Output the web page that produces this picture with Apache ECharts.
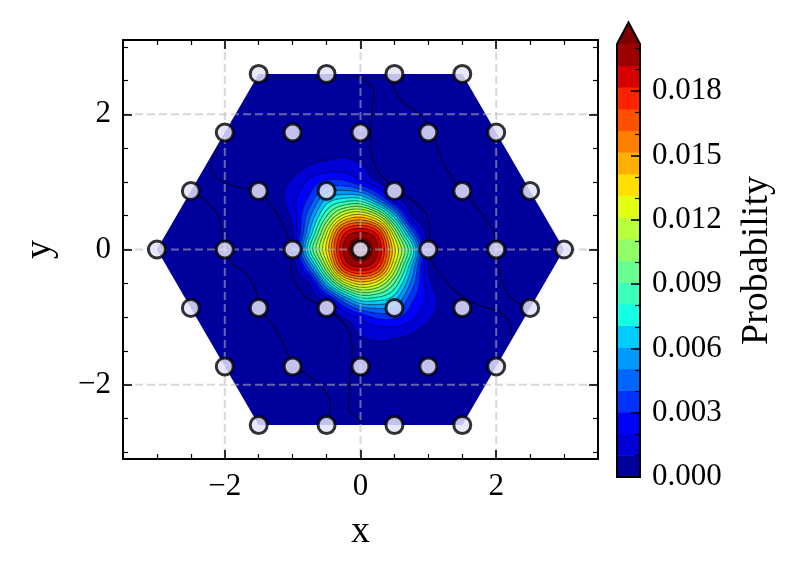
<!DOCTYPE html>
<html><head><meta charset="utf-8">
<script src="https://cdn.jsdelivr.net/npm/echarts@6/dist/echarts.min.js"></script>
<style>html,body{margin:0;padding:0;background:#fff}#c{width:796px;height:571px}</style>
</head><body><div id="c"></div>
<script>
// ---------------- data ----------------
const xTicks = [-2, 0, 2];
const yTicks = [-2, 0, 2];
const xMinorTicks = [-3, -2.5, -1.5, -1, -0.5, 0.5, 1, 1.5, 2.5, 3];
const yMinorTicks = [-3, -2.5, -1.5, -1, -0.5, 0.5, 1, 1.5, 2.5, 3];
const cbarTicks = [0, 0.003, 0.006, 0.009, 0.012, 0.015, 0.018];
const cbarMinorTicks = [0.001, 0.002, 0.004, 0.005, 0.007, 0.008, 0.010, 0.011, 0.013, 0.014, 0.016, 0.017, 0.019, 0.020];
const levels = [0, 0.00101, 0.00202, 0.00303, 0.00404, 0.00505, 0.00606, 0.00707, 0.00808, 0.00909, 0.0101,
  0.01111, 0.01212, 0.01313, 0.01414, 0.01515, 0.01616, 0.01717, 0.01818, 0.01919, 0.0202];

// hexagonal lattice sites
const latticeX = [-1.5, -0.5, 0.5, 1.5,
  -2, -1, 0, 1, 2,
  -2.5, -1.5, -0.5, 0.5, 1.5, 2.5,
  -3, -2, -1, 0, 1, 2, 3,
  -2.5, -1.5, -0.5, 0.5, 1.5, 2.5,
  -2, -1, 0, 1, 2,
  -1.5, -0.5, 0.5, 1.5];
const latticeY = [2.598, 2.598, 2.598, 2.598,
  1.732, 1.732, 1.732, 1.732, 1.732,
  0.866, 0.866, 0.866, 0.866, 0.866, 0.866,
  0, 0, 0, 0, 0, 0, 0,
  -0.866, -0.866, -0.866, -0.866, -0.866, -0.866,
  -1.732, -1.732, -1.732, -1.732, -1.732,
  -2.598, -2.598, -2.598, -2.598];

// probability field (units of 1e-5), rows top (y=1.75) to bottom (y=-1.75)
const PROB_UNIT = 1e-5;
const gridX = [-1.75, -1.5, -1.25, -1, -0.75, -0.5, -0.25, 0, 0.25, 0.5, 0.75, 1, 1.25, 1.5, 1.75];
const gridY = [1.75, 1.5, 1.25, 1, 0.75, 0.5, 0.25, 0, -0.25, -0.5, -0.75, -1, -1.25, -1.5, -1.75];
const probGrid = [
  [1, 4, 7, 13, 21, 27, 20, 4, 0, 0, 0, 0, 0, 0, 0],
  [1, 7, 17, 29, 44, 60, 80, 27, 3, 0, 0, 0, 0, 0, 0],
  [1, 10, 32, 50, 100, 130, 135, 115, 21, 1, 0, 0, 0, 0, 0],
  [0, 8, 55, 120, 230, 330, 330, 230, 107, 20, 2, 0, 0, 0, 0],
  [0, 3, 50, 170, 330, 620, 720, 720, 460, 141, 23, 2, 0, 0, 0],
  [0, 1, 20, 140, 480, 900, 1250, 1360, 1150, 650, 113, 11, 0, 0, 0],
  [0, 0, 6, 96, 620, 1200, 1780, 1930, 1770, 1120, 480, 33, 1, 0, 0],
  [0, 0, 3, 100, 800, 1340, 1930, 2070, 1930, 1340, 800, 100, 3, 0, 0],
  [0, 0, 1, 33, 480, 1120, 1770, 1930, 1780, 1200, 620, 96, 6, 0, 0],
  [0, 0, 0, 11, 113, 650, 1150, 1360, 1250, 900, 480, 140, 20, 1, 0],
  [0, 0, 0, 2, 23, 141, 460, 720, 720, 620, 330, 170, 50, 3, 0],
  [0, 0, 0, 0, 2, 20, 107, 230, 330, 330, 230, 120, 55, 8, 0],
  [0, 0, 0, 0, 0, 1, 21, 115, 135, 130, 100, 50, 32, 10, 1],
  [0, 0, 0, 0, 0, 0, 3, 27, 80, 60, 44, 29, 17, 7, 1],
  [0, 0, 0, 0, 0, 0, 0, 4, 20, 27, 21, 13, 7, 4, 1]
];

// zero-level contour traces in the low-probability region
const zeroLineA = [[-0.1, 2.58], [0.2, 2.36], [0.17, 2.07], [0.15, 1.58], [0.25, 1.17], [0.5, 0.92], [0.7, 0.77], [0.97, 0.53], [1.02, 0.18], [1.02, -0.06], [1.14, -0.31], [1.39, -0.61], [1.69, -0.8], [2.09, -0.95], [2.21, -1.13], [2.22, -1.33]];
const zeroLineB = [[0.45, 2.58], [0.55, 2.27], [0.9, 1.97], [1.04, 1.77], [1.19, 1.37], [1.34, 1.08], [1.5, 0.87], [1.79, 0.53], [1.99, 0.18], [2.02, -0.2], [2.14, -0.61], [2.34, -0.8], [2.5, -0.87]];
const zeroLineC = [[-2.08, 1.56], [-2.2, 1.27], [-2.14, 1.08], [-1.84, 0.93], [-1.5, 0.87], [-1.34, 0.68], [-1.15, 0.39], [-1.04, 0.03], [-1.0, -0.41], [-0.8, -0.71], [-0.5, -0.87], [-0.2, -1.16], [-0.12, -1.5], [-0.15, -1.9], [-0.18, -2.35], [-0.05, -2.49], [0.05, -2.59]];
const zeroLineD = [[-2.5, 0.87], [-2.29, 0.73], [-2.09, 0.48], [-2.04, 0.18], [-2, 0], [-1.89, -0.21], [-1.69, -0.36], [-1.54, -0.61], [-1.5, -0.87], [-1.3, -1.1], [-1.09, -1.5], [-1.0, -1.73], [-0.8, -1.84], [-0.55, -2.05], [-0.45, -2.29], [-0.45, -2.59]];

// ---------------- helpers ----------------
const FONT = "'Liberation Serif','DejaVu Serif',serif";
const TICK_FS = 31, TITLE_FS = 38;
function jet(t) {
  const seg = {
    r: [[0, 0], [0.35, 0], [0.66, 1], [0.89, 1], [1, 0.5]],
    g: [[0, 0], [0.125, 0], [0.375, 1], [0.64, 1], [0.91, 0], [1, 0]],
    b: [[0, 0.5], [0.11, 1], [0.34, 1], [0.65, 0], [1, 0]]
  };
  function f(a) {
    for (let i = 1; i < a.length; i++) if (t <= a[i][0]) {
      const x0 = a[i - 1][0], y0 = a[i - 1][1], x1 = a[i][0], y1 = a[i][1];
      return y0 + (y1 - y0) * (t - x0) / (x1 - x0);
    }
    return a[a.length - 1][1];
  }
  return 'rgb(' + Math.round(255 * f(seg.r)) + ',' + Math.round(255 * f(seg.g)) + ',' + Math.round(255 * f(seg.b)) + ')';
}
const nBands = levels.length - 1;
const bandColors = [];
for (let k = 0; k < nBands; k++) bandColors.push(jet((k + 0.5) / nBands));
const overColor = jet(1);
const fmtTick = v => (v < 0 ? '\u2212' : '') + Math.abs(v);

// smooth (Catmull-Rom) resampling of the field for contouring
const REF = 6;
function gv(r, c) {
  r = Math.max(0, Math.min(gridY.length - 1, r));
  c = Math.max(0, Math.min(gridX.length - 1, c));
  return probGrid[r][c] * PROB_UNIT;
}
function cr(p0, p1, p2, p3, t) {
  return 0.5 * (2 * p1 + (-p0 + p2) * t + (2 * p0 - 5 * p1 + 4 * p2 - p3) * t * t + (-p0 + 3 * p1 - 3 * p2 + p3) * t * t * t);
}
const nR = (gridY.length - 1) * REF + 1, nC = (gridX.length - 1) * REF + 1;
const fine = [];
for (let r = 0; r < nR; r++) {
  const i = Math.min(Math.floor(r / REF), gridY.length - 2), tr = r / REF - i;
  const row = [];
  for (let c = 0; c < nC; c++) {
    const j = Math.min(Math.floor(c / REF), gridX.length - 2), tc = c / REF - j;
    const q = [];
    for (let k = -1; k <= 2; k++) q.push(cr(gv(i + k, j - 1), gv(i + k, j), gv(i + k, j + 1), gv(i + k, j + 2), tc));
    row.push({
      x: gridX[j] + tc * (gridX[j + 1] - gridX[j]),
      y: gridY[i] + tr * (gridY[i + 1] - gridY[i]),
      v: cr(q[0], q[1], q[2], q[3], tr)
    });
  }
  fine.push(row);
}
function triangles(api) {
  const P = fine.map(row => row.map(n => { const p = api.coord([n.x, n.y]); return [p[0], p[1], n.v]; }));
  const tris = [];
  for (let r = 0; r < nR - 1; r++) for (let c = 0; c < nC - 1; c++) {
    const a = P[r][c], b = P[r][c + 1], d = P[r + 1][c + 1], e = P[r + 1][c];
    tris.push([a, b, d], [a, d, e]);
  }
  return tris;
}
function clip(poly, lvl, keepGE) {
  const out = [];
  for (let i = 0; i < poly.length; i++) {
    const A = poly[i], B = poly[(i + 1) % poly.length];
    const ia = keepGE ? A[2] >= lvl : A[2] <= lvl, ib = keepGE ? B[2] >= lvl : B[2] <= lvl;
    if (ia) out.push(A);
    if (ia !== ib) { const t = (lvl - A[2]) / (B[2] - A[2]); out.push([A[0] + t * (B[0] - A[0]), A[1] + t * (B[1] - A[1]), lvl]); }
  }
  return out;
}
function hull(pts) {
  pts = pts.slice().sort((a, b) => a[0] - b[0] || a[1] - b[1]);
  const cross = (o, a, b) => (a[0] - o[0]) * (b[1] - o[1]) - (a[1] - o[1]) * (b[0] - o[0]);
  const lo = [], up = [];
  for (const p of pts) { while (lo.length >= 2 && cross(lo[lo.length - 2], lo[lo.length - 1], p) <= 0) lo.pop(); lo.push(p); }
  for (let i = pts.length - 1; i >= 0; i--) { const p = pts[i]; while (up.length >= 2 && cross(up[up.length - 2], up[up.length - 1], p) <= 0) up.pop(); up.push(p); }
  return lo.slice(0, -1).concat(up.slice(0, -1));
}
const latticePts = latticeX.map((x, i) => [x, latticeY[i]]);
const hexHull = hull(latticePts);

// ---------------- chart ----------------
const chart = echarts.init(document.getElementById('c'), null, { renderer: 'canvas' });
const blackLine = { show: true, onZero: false, lineStyle: { color: '#000', width: 2 } };
const majorTick = vals => ({ show: true, inside: true, length: 9, lineStyle: { color: '#000', width: 1.6 }, customValues: vals });
const minorTick = vals => ({ show: true, inside: true, length: 5, lineStyle: { color: '#000', width: 1.2 }, customValues: vals });
const tickLabel = vals => ({ show: true, customValues: vals, formatter: fmtTick, margin: 12, fontSize: TICK_FS, fontFamily: FONT, color: '#000' });
const nameStyle = { fontSize: TITLE_FS, fontFamily: FONT, color: '#000' };
function ax(gridIndex, pos, min, max, extra) {
  return Object.assign({ gridIndex, type: 'value', position: pos, min, max, z: 10,
    axisLine: { show: false, onZero: false }, axisTick: { show: false }, axisLabel: { show: false }, splitLine: { show: false } }, extra);
}
const XMIN = -3.5, XMAX = 3.5, YMIN = -3.1, YMAX = 3.1, CMAX = levels[levels.length - 1];

const option = {
  animation: false,
  backgroundColor: '#fff',
  grid: [
    { left: 123, top: 40, width: 475, height: 419, containLabel: false, outerBoundsMode: 'none' },
    { left: 617, top: 44, width: 23, height: 433, containLabel: false, outerBoundsMode: 'none' }
  ],
  xAxis: [
    ax(0, 'bottom', XMIN, XMAX, { axisLine: blackLine, axisTick: majorTick(xTicks), axisLabel: tickLabel(xTicks),
      name: 'x', nameLocation: 'middle', nameGap: 54, nameTextStyle: nameStyle }),
    ax(0, 'bottom', XMIN, XMAX, { axisTick: minorTick(xMinorTicks) }),
    ax(0, 'top', XMIN, XMAX, { axisLine: blackLine, axisTick: majorTick(xTicks) }),
    ax(0, 'top', XMIN, XMAX, { axisTick: minorTick(xMinorTicks) }),
    ax(1, 'bottom', 0, 1, { show: false })
  ],
  yAxis: [
    ax(0, 'left', YMIN, YMAX, { axisLine: blackLine, axisTick: majorTick(yTicks), axisLabel: tickLabel(yTicks),
      name: 'y', nameLocation: 'middle', nameGap: 64, nameTextStyle: nameStyle }),
    ax(0, 'left', YMIN, YMAX, { axisTick: minorTick(yMinorTicks) }),
    ax(0, 'right', YMIN, YMAX, { axisLine: blackLine, axisTick: majorTick(yTicks) }),
    ax(0, 'right', YMIN, YMAX, { axisTick: minorTick(yMinorTicks) }),
    ax(1, 'right', 0, CMAX, { axisTick: majorTick(cbarTicks),
      axisLabel: { show: true, customValues: cbarTicks, formatter: v => v.toFixed(3), margin: 12, fontSize: TICK_FS, fontFamily: FONT, color: '#000' },
      name: 'Probability', nameLocation: 'middle', nameRotate: 90, nameGap: 98, nameTextStyle: nameStyle }),
    ax(1, 'right', 0, CMAX, { axisTick: minorTick(cbarMinorTicks) })
  ],
  series: [
    { // hexagonal domain, lowest band
      type: 'custom', xAxisIndex: 0, yAxisIndex: 0, z: 1, silent: true,
      data: [[0, 0]],
      renderItem: (params, api) => ({
        type: 'polygon', shape: { points: hexHull.map(p => api.coord(p)) }, style: { fill: bandColors[0] }
      })
    },
    { // filled contour bands
      type: 'custom', xAxisIndex: 0, yAxisIndex: 0, z: 2, silent: true,
      data: levels.slice(1).map((lo, i) => [0, 0, i + 1]),
      renderItem: (params, api) => {
        const k = api.value(2);
        const lo = levels[k], hi = k + 1 < levels.length ? levels[k + 1] : Infinity;
        const color = k < nBands ? bandColors[k] : overColor;
        let d = '';
        for (const t of triangles(api)) {
          const mn = Math.min(t[0][2], t[1][2], t[2][2]), mx = Math.max(t[0][2], t[1][2], t[2][2]);
          if (mx < lo || mn >= hi) continue;
          let poly = t;
          if (mn < lo) poly = clip(poly, lo, true);
          if (mx > hi) poly = clip(poly, hi, false);
          if (poly.length < 3) continue;
          d += 'M' + poly.map(p => p[0].toFixed(2) + ' ' + p[1].toFixed(2)).join('L') + 'Z';
        }
        return { type: 'path', shape: { pathData: d || 'M0 0Z' }, style: { fill: color, stroke: color, lineWidth: 0.3 } };
      }
    },
    { // contour lines
      type: 'custom', xAxisIndex: 0, yAxisIndex: 0, z: 3, silent: true,
      data: levels.slice(1).map((lv, i) => [0, 0, i + 1]),
      renderItem: (params, api) => {
        const L = levels[api.value(2)];
        let d = '';
        for (const t of triangles(api)) {
          const pts = [];
          for (let e = 0; e < 3; e++) {
            const A = t[e], B = t[(e + 1) % 3];
            if ((A[2] - L) * (B[2] - L) < 0) { const s = (L - A[2]) / (B[2] - A[2]); pts.push([A[0] + s * (B[0] - A[0]), A[1] + s * (B[1] - A[1])]); }
          }
          if (pts.length === 2) d += 'M' + pts[0][0].toFixed(2) + ' ' + pts[0][1].toFixed(2) + 'L' + pts[1][0].toFixed(2) + ' ' + pts[1][1].toFixed(2);
        }
        return { type: 'path', shape: { pathData: d || 'M0 0' }, style: { fill: null, stroke: 'rgba(0,0,0,0.42)', lineWidth: 1.2 } };
      }
    },
    ...[zeroLineA, zeroLineB, zeroLineC, zeroLineD].map(line => ({
      type: 'line', xAxisIndex: 0, yAxisIndex: 0, z: 3, silent: true, data: line, smooth: 0.35,
      symbol: 'none', lineStyle: { color: 'rgba(0,0,0,0.7)', width: 1.1 }
    })),
    { // dashed grid lines
      type: 'custom', xAxisIndex: 0, yAxisIndex: 0, z: 4, silent: true,
      data: xTicks.map(v => [v, 0, 0]).concat(yTicks.map(v => [0, v, 1])),
      renderItem: (params, api) => {
        const cs = params.coordSys, p = api.coord([api.value(0), api.value(1)]);
        const vert = api.value(2) === 0;
        return { type: 'line',
          shape: vert ? { x1: p[0], y1: cs.y, x2: p[0], y2: cs.y + cs.height } : { x1: cs.x, y1: p[1], x2: cs.x + cs.width, y2: p[1] },
          style: { stroke: 'rgba(184,184,184,0.55)', lineWidth: 2, lineDash: [8, 4] } };
      }
    },
    { // lattice sites
      type: 'scatter', xAxisIndex: 0, yAxisIndex: 0, z: 6, silent: true,
      data: latticePts, symbol: 'circle', symbolSize: 17,
      itemStyle: { color: 'rgba(228,228,250,0.85)', borderColor: 'rgba(0,0,0,0.8)', borderWidth: 3, opacity: 1 }
    },
    { // colorbar bands
      type: 'custom', xAxisIndex: 4, yAxisIndex: 4, z: 2, silent: true,
      data: levels.slice(0, -1).map((lo, k) => [0, lo, k]),
      renderItem: (params, api) => {
        const k = api.value(2);
        const p0 = api.coord([0, levels[k]]), p1 = api.coord([1, levels[k + 1]]);
        return { type: 'rect', shape: { x: p0[0], y: p1[1], width: p1[0] - p0[0], height: p0[1] - p1[1] + 0.5 },
          style: { fill: bandColors[k] } };
      }
    },
    { // colorbar extension triangle and outline
      type: 'custom', xAxisIndex: 4, yAxisIndex: 4, z: 3, silent: true,
      data: [[0, CMAX]],
      renderItem: (params, api) => {
        const bl = api.coord([0, 0]), tl = api.coord([0, CMAX]), tr = api.coord([1, CMAX]), br = api.coord([1, 0]);
        const apex = [(tl[0] + tr[0]) / 2, tl[1] - 0.05 * (bl[1] - tl[1])];
        return { type: 'group', children: [
          { type: 'polygon', shape: { points: [tl, apex, tr] }, style: { fill: overColor } },
          { type: 'polygon', shape: { points: [bl, tl, apex, tr, br] }, style: { fill: null, stroke: '#000', lineWidth: 2, lineJoin: 'miter' } }
        ] };
      }
    }
  ]
};
chart.setOption(option);
</script></body></html>
